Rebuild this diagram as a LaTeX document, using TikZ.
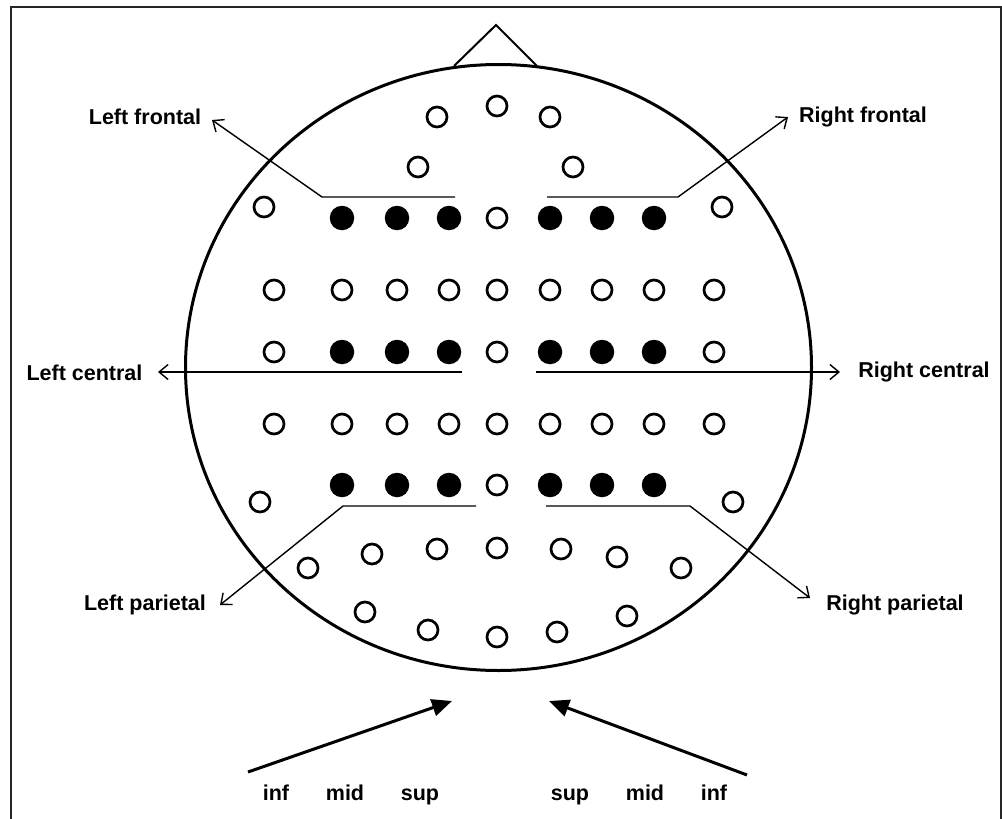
\documentclass[tikz,border=0pt]{standalone}
\usepackage{fontspec}
\setmainfont{Liberation Sans}
\usetikzlibrary{arrows.meta}
\begin{document}
\begin{tikzpicture}[x=1pt,y=-1pt,
  op/.style={circle,draw,line width=2.7pt,minimum size=20pt,inner sep=0pt},
  fi/.style={circle,fill=black,minimum size=24.5pt,inner sep=0pt},
  lbl/.style={font=\fontsize{21.5}{25}\selectfont\bfseries,inner sep=0pt},
  blbl/.style={lbl,anchor=base},
  thinl/.style={line width=1.4pt},
  barb/.style={thinl,-{Straight Barb[length=9pt,width=15pt,line width=1.4pt]}},
  bigarrow/.style={line width=3pt,-{Triangle[length=20pt,width=17pt]}}
]
\useasboundingbox (0,0) rectangle (1002,819);
\draw[line width=2.5pt,black!85] (11,830) -- (11,7) -- (1001,7) -- (1001,830);
% head
\draw[line width=3pt] (498.5,367.5) ellipse [x radius=313pt,y radius=303pt];
\draw[line width=2pt] (454,66) -- (496,25) -- (537,66);
% open electrodes
\foreach \x/\y [count=\i] in {437/117,497/106,550/117,418/167,573/167,264/207,722/207,
  274/290,342/290,397/290,449/290,497/290,550/290,602/290,654/290,714/290,
  274/352,497/352,714/352,
  274/424,342/424,397/424,449/424,497/424,550/424,602/424,654/424,714/424,
  497/218,497/485,260/502,733/502,
  308/568,372/554,437/549,497/548,561/549,617/557,681/568,
  365/612,428/630,497/637,557/632,627/616}
  \node[op] (o\i) at (\x,\y) {};
% filled electrodes
\foreach \y/\r in {218/a,352/b,485/c}
  \foreach \x [count=\j] in {342,397,449,550,602,654}
    \node[fi] (f\r\j) at (\x,\y) {};
% labels
\node[lbl] (LF) at (145,117) {Left frontal};
\node[lbl] (RF) at (863,117) {Right frontal};
\node[lbl] (LC) at (84.5,373) {Left central};
\node[lbl] (RC) at (924,372) {Right central};
\node[lbl] (LP) at (145,605) {Left parietal};
\node[lbl] (RP) at (895,605) {Right parietal};
% coordinates
\coordinate (lf1) at (455,197); \coordinate (lf2) at (322,197); \coordinate (lfT) at (212,120);
\coordinate (rf1) at (547,197); \coordinate (rf2) at (678,197); \coordinate (rfT) at (788,117);
\coordinate (lc1) at (462,372); \coordinate (lcT) at (158,372);
\coordinate (rc1) at (536,372); \coordinate (rcT) at (840,372);
\coordinate (lp1) at (476,506); \coordinate (lp2) at (343,506); \coordinate (lpT) at (220,605);
\coordinate (rp1) at (546,506); \coordinate (rp2) at (690,506); \coordinate (rpT) at (810,598);
\draw[barb] (lf1) -- (lf2) -- (lfT);
\draw[barb] (rf1) -- (rf2) -- (rfT);
\draw[barb] (lc1) -- (lcT);
\draw[barb] (rc1) -- (rcT);
\draw[barb] (lp1) -- (lp2) -- (lpT);
\draw[barb] (rp1) -- (rp2) -- (rpT);
% bottom arrows
\coordinate (la0) at (248,772); \coordinate (la1) at (452,701);
\coordinate (ra0) at (747,775); \coordinate (ra1) at (549,701);
\draw[bigarrow] (la0) -- (la1);
\draw[bigarrow] (ra0) -- (ra1);
\node[blbl] (linf) at (276,800) {inf};
\node[blbl] (lmid) at (345,800) {mid};
\node[blbl] (lsup) at (420,800) {sup};
\node[blbl] (rsup) at (570,800) {sup};
\node[blbl] (rmid) at (645,800) {mid};
\node[blbl] (rinf) at (714,800) {inf};
\end{tikzpicture}
\end{document}
